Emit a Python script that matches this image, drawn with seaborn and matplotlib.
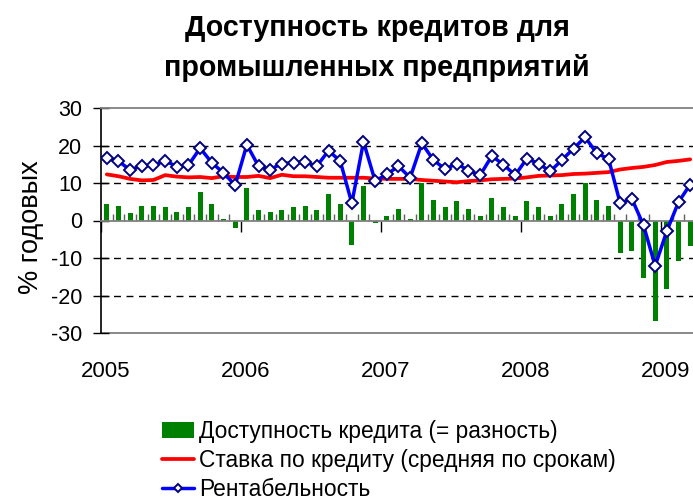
import numpy as np
import pandas as pd
import matplotlib
matplotlib.use("Agg")
import matplotlib.pyplot as plt
import seaborn as sns
from matplotlib.ticker import FixedLocator, NullFormatter

# ---- data (monthly, Jan 2005 - Mar 2009) ----
years = ["2005", "2006", "2007", "2008", "2009"]
availability = [4.5, 4.0, 2.1, 4.0, 4.0, 3.7, 2.4, 3.5, 7.7, 4.3, 0.5, -2.0,
                8.8, 2.8, 2.4, 2.9, 3.5, 4.0, 2.9, 7.2, 4.5, -6.6, 9.3, -0.7,
                1.3, 3.2, 0.5, 10.0, 5.6, 3.5, 5.1, 3.2, 1.3, 6.1, 3.7, 1.1,
                5.1, 3.5, 1.3, 4.3, 7.2, 10.1, 5.6, 4.0, -8.7, -8.2, -15.4, -26.9,
                -18.3, -10.8, -6.8]
loan_rate = [12.3, 11.8, 11.1, 10.7, 10.8, 12.1, 11.7, 11.5, 11.6, 11.3, 11.8, 11.6,
             11.6, 11.9, 11.3, 12.2, 11.8, 11.8, 11.6, 11.4, 11.4, 11.4, 11.4, 11.2,
             11.1, 11.1, 11.1, 10.8, 10.6, 10.4, 10.2, 10.5, 10.7, 11.0, 11.1, 11.2,
             11.5, 11.9, 12.0, 12.1, 12.4, 12.5, 12.7, 12.9, 13.6, 14.0, 14.3, 14.8,
             15.6, 15.9, 16.3]
profitability = [16.8, 15.8, 13.5, 14.6, 14.7, 15.9, 14.4, 14.8, 19.3, 15.4, 12.7, 9.4,
                 20.2, 14.5, 13.6, 15.2, 15.4, 15.6, 14.5, 18.6, 15.9, 4.6, 21.0, 10.5,
                 12.3, 14.5, 11.4, 20.6, 16.1, 13.7, 15.2, 13.3, 12.1, 17.2, 14.9, 12.1,
                 16.5, 15.2, 13.1, 16.1, 19.2, 22.2, 17.9, 16.5, 4.6, 5.8, -1.25, -12.1,
                 -2.8, 4.9, 9.6]

title = "Доступность кредитов для\nпромышленных предприятий"
ylabel = "% годовых"
lab_bar = "Доступность кредита (= разность)"
lab_rate = "Ставка по кредиту (средняя по срокам)"
lab_prof = "Рентабельность"

n = len(availability)
df = pd.DataFrame({"m": np.arange(n), "avail": availability,
                   "rate": loan_rate, "prof": profitability})

sns.set_theme(style="white")
plt.rcParams["font.family"] = ["Liberation Sans", "DejaVu Sans"]
plt.rcParams["text.color"] = "black"
plt.rcParams["axes.labelcolor"] = "black"
plt.rcParams["xtick.color"] = "black"
plt.rcParams["ytick.color"] = "black"

W, H = 693, 501
fig = plt.figure(figsize=(W / 100, H / 100), dpi=100)
ax = fig.add_axes([101 / W, 1 - 333 / H, (W - 101) / W, (333 - 108) / H])

sns.barplot(data=df, x="m", y="avail", color="#008000", width=0.45,
            saturation=1, linewidth=0, ax=ax, label=lab_bar, zorder=2)
sns.lineplot(data=df, x="m", y="rate", color="#FF0000", linewidth=2.7,
             ax=ax, label=lab_rate, zorder=3)
sns.lineplot(data=df, x="m", y="prof", color="#0000FF", linewidth=2.5,
             marker="D", markersize=6.5, markerfacecolor="white",
             markeredgecolor="#000080", markeredgewidth=1.4,
             ax=ax, label=lab_prof, zorder=4)

handles, labels = ax.get_legend_handles_labels()
hmap = dict(zip(labels, handles))
order = [lab_bar, lab_rate, lab_prof]
if ax.get_legend() is not None:
    ax.get_legend().remove()

ax.set_ylim(-30, 30)
ax.set_xlim(-0.5, (W - 101) / (140 / 12) - 0.5)
ax.set_yticks(np.arange(-30, 31, 10))
ax.set_yticklabels([str(v) for v in range(-30, 31, 10)], fontsize=15.5,
                   color="black")
ax.tick_params(axis="y", direction="inout", length=11, width=1, color="black",
               left=True, pad=8)

# grid: dashed at +-10, +-20
ax.yaxis.grid(True)
for val, gl in zip(ax.get_yticks(), ax.get_ygridlines()):
    if val in (10, 20, -10, -20):
        gl.set_color("black")
        gl.set_linestyle((0, (5, 4)))
        gl.set_linewidth(1.0)
    else:
        gl.set_visible(False)
ax.set_axisbelow(True)

# x axis crossing at zero, ticks at month boundaries
ax.spines["bottom"].set_position(("data", 0))
ax.spines["bottom"].set_color("#808080")
ax.spines["bottom"].set_linewidth(1.3)
year_bounds = [-0.5 + 12 * k for k in range(len(years))]
month_bounds = [-0.5 + k for k in range(n + 1) if k % 12 != 0]
ax.xaxis.set_major_locator(FixedLocator(year_bounds))
ax.xaxis.set_minor_locator(FixedLocator(month_bounds))
ax.xaxis.set_major_formatter(NullFormatter())
ax.tick_params(axis="x", which="major", direction="out", length=8, width=1,
               color="black", bottom=True)
ax.tick_params(axis="x", which="minor", direction="in", length=5, width=1,
               color="#606060", bottom=True)
ax.set_xlabel("")

ax.spines["left"].set_color("black")
ax.spines["left"].set_linewidth(1.2)
ax.spines["top"].set_color("#808080")
ax.spines["top"].set_linewidth(1.3)
ax.spines["right"].set_visible(False)

sec = ax.secondary_xaxis(0)
sec.set_xticks([b + 0.4 for b in year_bounds])
sec.set_xticklabels(years, fontsize=16, color="black")
sec.tick_params(length=0, pad=20)
sec.spines["bottom"].set_color("#808080")
sec.spines["bottom"].set_linewidth(1.3)

ax.set_ylabel(ylabel, fontsize=19.5, color="black")
ax.yaxis.set_label_coords((44 - 101) / (W - 101), 0.47)

fig.text(377 / W, 1 - 48 / H, title, ha="center", va="center", color="black",
         fontsize=20.6, fontweight="bold", linespacing=1.55)

fig.legend([hmap[l] for l in order], order, loc="upper left",
           bbox_to_anchor=(162 / W, 1 - 420 / H), frameon=False,
           fontsize=16.4, handlelength=1.42, handletextpad=0.22,
           labelspacing=0.26, borderaxespad=0, borderpad=0, markerscale=0.7)

fig.savefig("out.png", dpi=100)
